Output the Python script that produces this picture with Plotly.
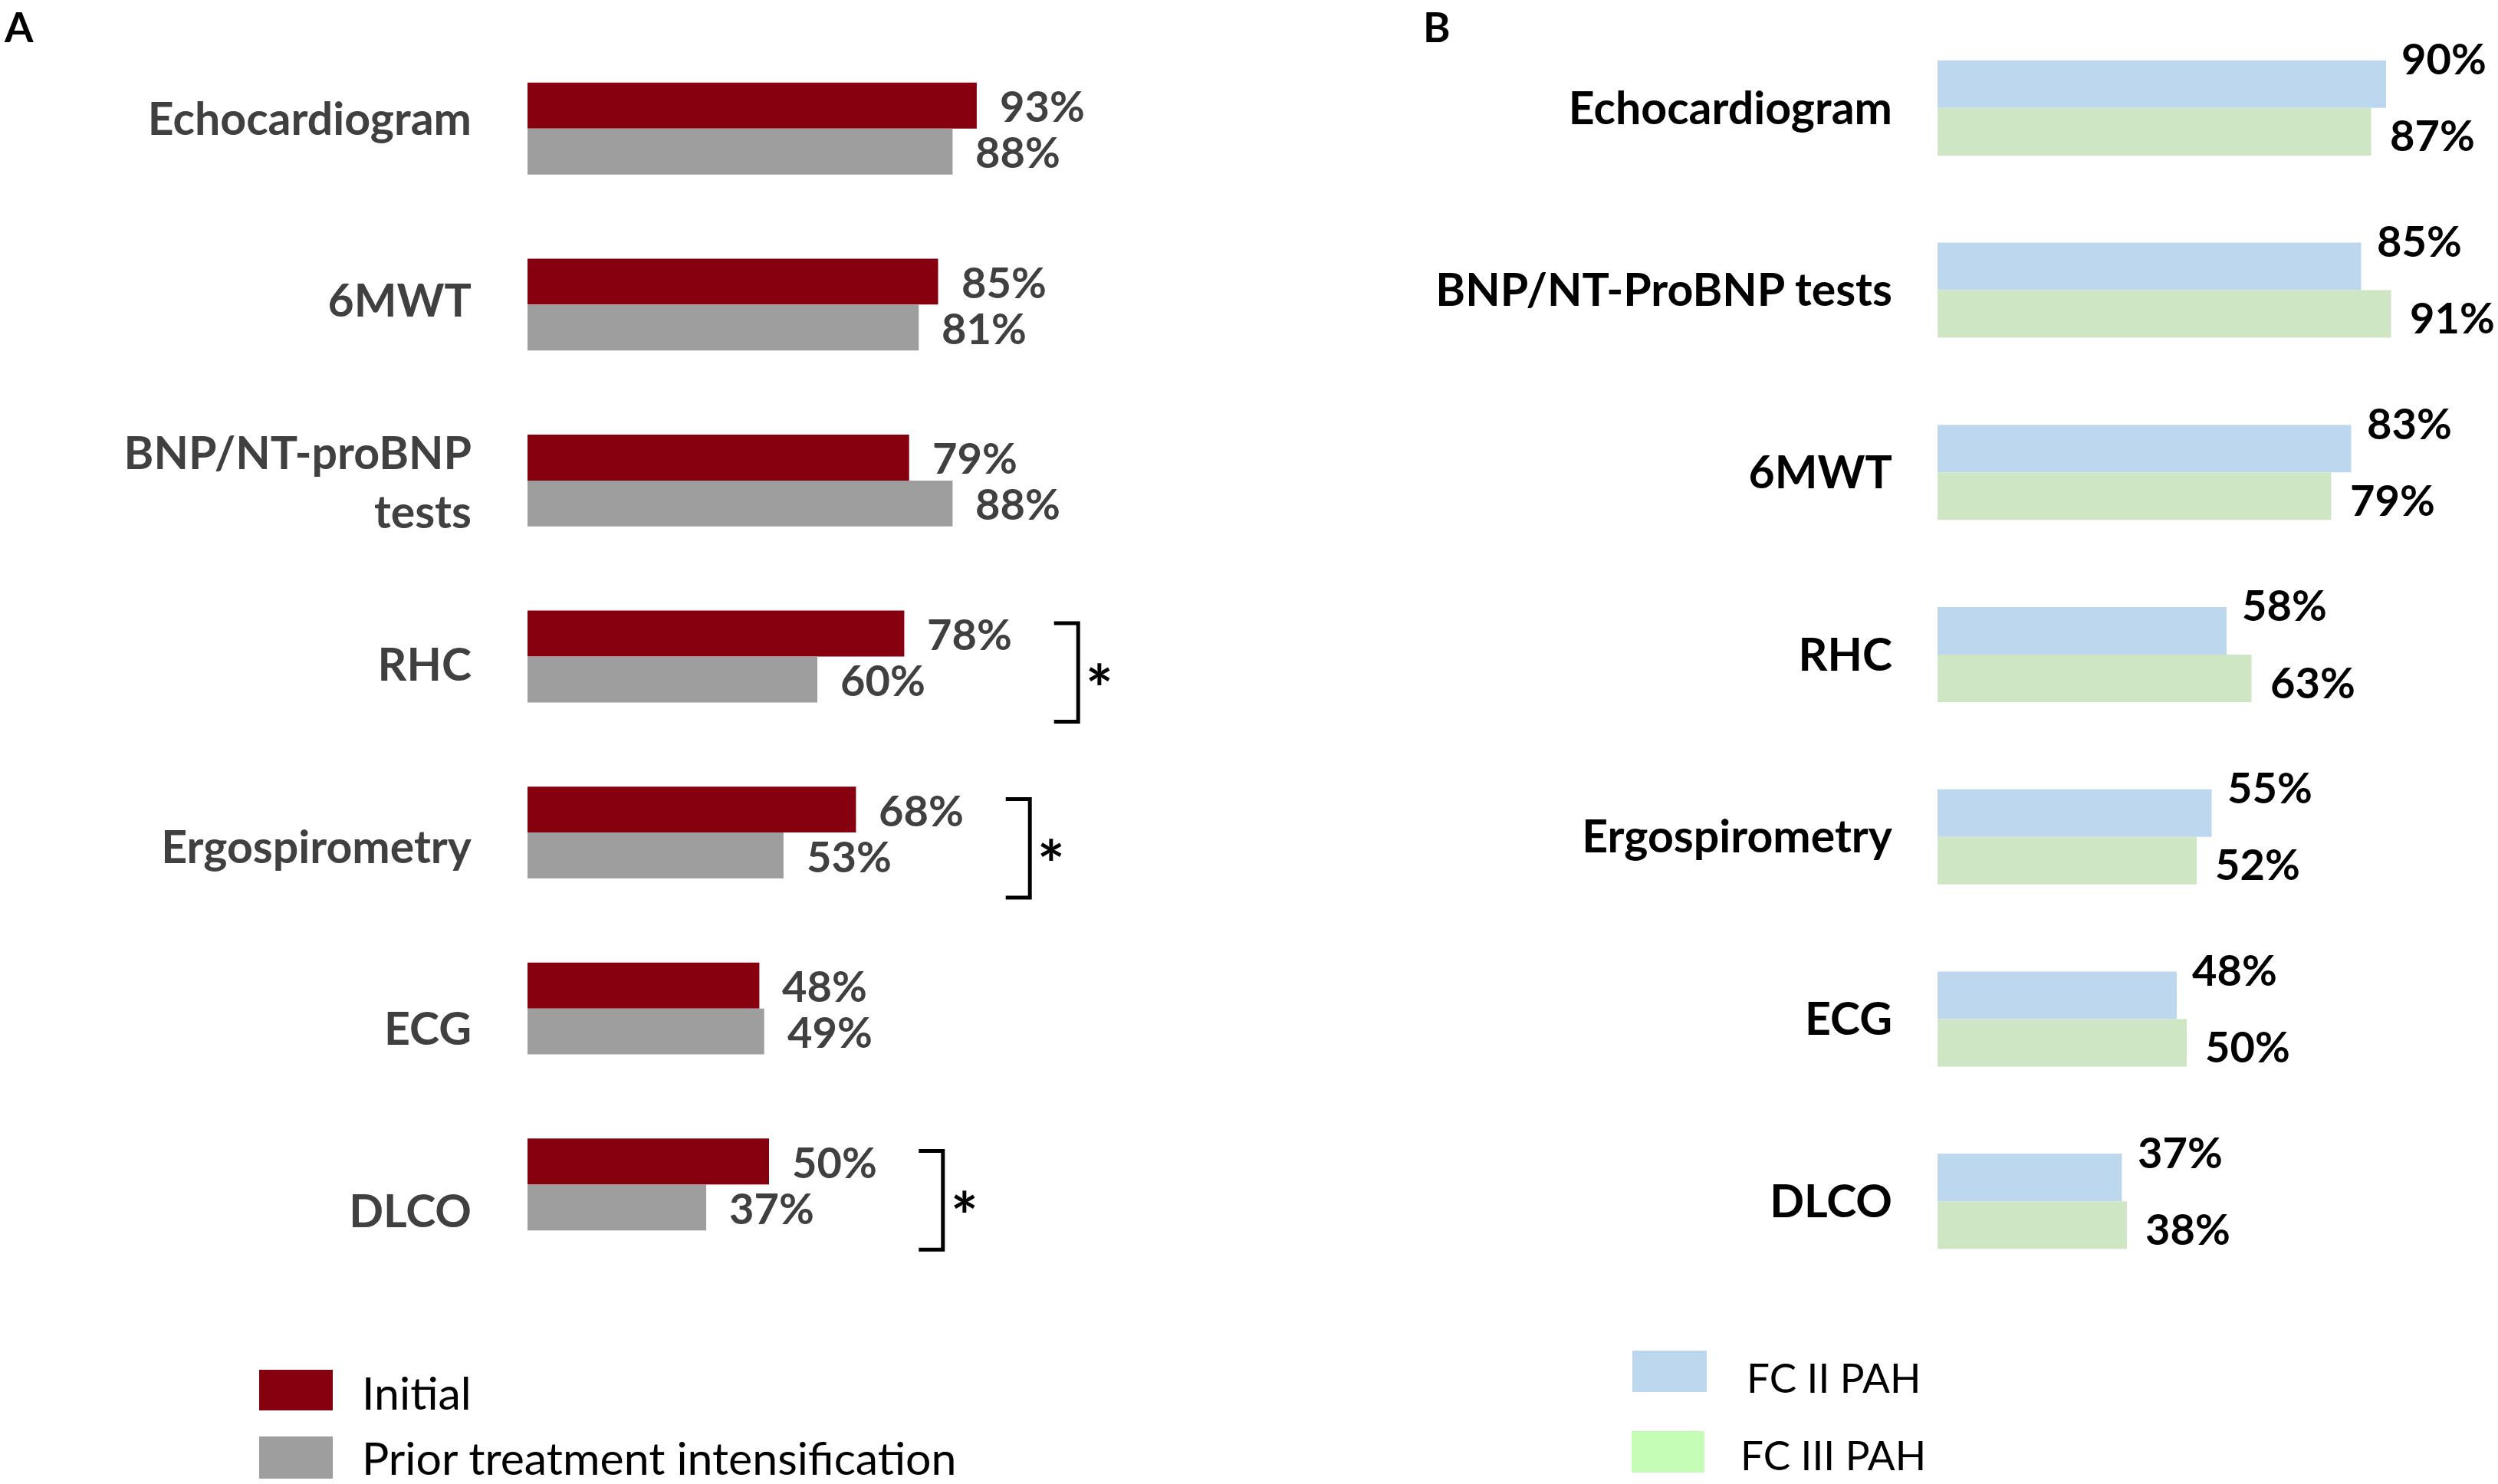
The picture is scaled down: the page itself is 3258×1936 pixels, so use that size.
import plotly.graph_objects as go

# ---------------- data ----------------
cats_a = ["Echocardiogram", "6MWT", "BNP/NT-proBNP<br>tests", "RHC",
          "Ergospirometry", "ECG", "DLCO"]
initial = [93, 85, 79, 78, 68, 48, 50]
prior = [88, 81, 88, 60, 53, 49, 37]
significant_a = ["RHC", "Ergospirometry", "DLCO"]
series_a = ["Initial", "Prior treatment intensification"]

cats_b = ["Echocardiogram", "BNP/NT-ProBNP tests", "6MWT", "RHC",
          "Ergospirometry", "ECG", "DLCO"]
fc2 = [90, 85, 83, 58, 55, 48, 37]
fc3 = [87, 91, 79, 63, 52, 50, 38]
series_b = ["FC II PAH", "FC III PAH"]

# ---------------- style ----------------
W, H = 3258, 1936
RED, GRAY = "#870010", "#9E9E9E"
BLUE, GREEN, GREEN_LEG = "#BDD7EE", "#CFE6C5", "#C3FDB6"
FONT = "Lato"
BW = 0.261  # bar thickness in row units

# panel A plot area (pixels from top-left)
A_TOP, A_BOT = 53, 1660
# panel A category labels run on a slightly larger pitch than the bars
LAB_FIRST, LAB_STEP = 155, 237.5

idx_a = list(range(len(cats_a)))
idx_b = list(range(len(cats_b)))


def px_x(p):
    return p / W


def px_y(p):
    return 1 - p / H


fig = go.Figure()

fig.add_trace(go.Bar(name=series_a[0], y=idx_a, x=initial, orientation="h",
                     width=BW, offset=-BW, marker=dict(color=RED, line_width=0),
                     xaxis="x", yaxis="y", showlegend=False))
fig.add_trace(go.Bar(name=series_a[1], y=idx_a, x=prior, orientation="h",
                     width=BW, offset=0, marker=dict(color=GRAY, line_width=0),
                     xaxis="x", yaxis="y", showlegend=False))
fig.add_trace(go.Bar(name=series_b[0], y=idx_b, x=fc2, orientation="h",
                     width=BW, offset=-BW, marker=dict(color=BLUE, line_width=0),
                     xaxis="x2", yaxis="y2", showlegend=False))
fig.add_trace(go.Bar(name=series_b[1], y=idx_b, x=fc3, orientation="h",
                     width=BW, offset=0, marker=dict(color=GREEN, line_width=0),
                     xaxis="x2", yaxis="y2", showlegend=False))
# carrier trace for the label axis of panel A
fig.add_trace(go.Scatter(x=[None], y=[None], xaxis="x", yaxis="y3",
                         showlegend=False, hoverinfo="skip"))

annotations = []
shapes = []

valfont_a = dict(family=FONT, size=56, color="#404040", weight="bold")
valfont_b = dict(family=FONT, size=56, color="#000000", weight="bold")

for i, (v1, v2) in enumerate(zip(initial, prior)):
    annotations.append(dict(x=v1, y=i - BW / 2, xref="x", yref="y", text=f"{v1}%",
                            xanchor="left", yanchor="middle", xshift=28,
                            showarrow=False, font=valfont_a))
    annotations.append(dict(x=v2, y=i + BW / 2, xref="x", yref="y", text=f"{v2}%",
                            xanchor="left", yanchor="middle", xshift=28,
                            showarrow=False, font=valfont_a))

for i, (v1, v2) in enumerate(zip(fc2, fc3)):
    annotations.append(dict(x=v1, y=i - BW / 2, xref="x2", yref="y2", text=f"{v1}%",
                            xanchor="left", yanchor="middle", xshift=18, yshift=34,
                            showarrow=False, font=valfont_b))
    annotations.append(dict(x=v2, y=i + BW / 2, xref="x2", yref="y2", text=f"{v2}%",
                            xanchor="left", yanchor="middle", xshift=22, yshift=-4,
                            showarrow=False, font=valfont_b))

# significance brackets
for name in significant_a:
    i = cats_a.index(name)
    x0 = max(initial[i], prior[i]) + 31
    x1 = x0 + 5
    y0, y1 = i - 0.19, i + 0.37
    shapes.append(dict(type="path", xref="x", yref="y",
                       path=f"M {x0},{y0} L {x1},{y0} L {x1},{y1} L {x0},{y1}",
                       line=dict(color="#000000", width=5)))
    annotations.append(dict(x=x1, y=(y0 + y1) / 2, xref="x", yref="y", text="*",
                            xanchor="left", yanchor="middle", xshift=8, yshift=-19,
                            showarrow=False,
                            font=dict(family=FONT, size=84, color="#000000", weight="bold")))

# panel letters
annotations.append(dict(x=px_x(3), y=1, xref="paper", yref="paper", text="A",
                        xanchor="left", yanchor="top", showarrow=False,
                        font=dict(family=FONT, size=54, color="#000000", weight="bold")))
annotations.append(dict(x=px_x(1854), y=1, xref="paper", yref="paper", text="B",
                        xanchor="left", yanchor="top", showarrow=False,
                        font=dict(family=FONT, size=54, color="#000000", weight="bold")))

# legends (drawn as swatches + text)
leg_items = [
    (series_a[0], RED, (338, 1787, 434, 1840), (470, 1816), 59),
    (series_a[1], GRAY, (338, 1874, 434, 1929), (470, 1901), 59),
    (series_b[0], BLUE, (2129, 1762, 2226, 1816), (2276, 1796), 53),
    (series_b[1], GREEN_LEG, (2128, 1867, 2223, 1921), (2268, 1897), 53),
]
for label, col, (ax0, ay0, ax1, ay1), (tx, ty), fs in leg_items:
    shapes.append(dict(type="rect", xref="paper", yref="paper",
                       x0=px_x(ax0), x1=px_x(ax1), y0=px_y(ay1), y1=px_y(ay0),
                       fillcolor=col, line=dict(width=0)))
    annotations.append(dict(x=px_x(tx), y=px_y(ty), xref="paper", yref="paper",
                            text=label, xanchor="left", yanchor="middle",
                            showarrow=False,
                            font=dict(family=FONT, size=fs, color="#000000")))

lab_top = (A_TOP - LAB_FIRST) / LAB_STEP
lab_bot = (A_BOT - LAB_FIRST) / LAB_STEP

fig.update_layout(
    width=W, height=H,
    margin=dict(l=0, r=0, t=0, b=0),
    paper_bgcolor="white", plot_bgcolor="white",
    barmode="overlay",
    font=dict(family=FONT),
    xaxis=dict(domain=[688 / W, (688 + 6.3 * 125) / W], range=[0, 125],
               visible=False, fixedrange=True),
    yaxis=dict(domain=[px_y(A_BOT), px_y(A_TOP)], range=[6.5, -0.5],
               showticklabels=False, ticks="", showgrid=False,
               zeroline=False, showline=False),
    yaxis3=dict(overlaying="y", anchor="x", side="left",
                range=[lab_bot, lab_top],
                tickvals=idx_a, ticktext=cats_a, ticks="", showgrid=False,
                zeroline=False, showline=False, ticklabelstandoff=72,
                tickfont=dict(family=FONT, size=59, color="#404040", weight="bold")),
    xaxis2=dict(domain=[2527 / W, (2527 + 6.5 * 110) / W], range=[0, 110],
                visible=False, anchor="y2", fixedrange=True),
    yaxis2=dict(domain=[px_y(1686), px_y(22)], range=[6.5, -0.5], anchor="x2",
                tickvals=idx_b, ticktext=cats_b, ticks="", showgrid=False,
                zeroline=False, showline=False, ticklabelstandoff=58,
                tickfont=dict(family=FONT, size=59, color="#000000", weight="bold")),
    annotations=annotations,
    shapes=shapes,
)

fig.write_html("out.html",
               config={"displayModeBar": False},
               post_script="document.body.style.margin='0px';"
                           "document.body.style.overflow='hidden';")
